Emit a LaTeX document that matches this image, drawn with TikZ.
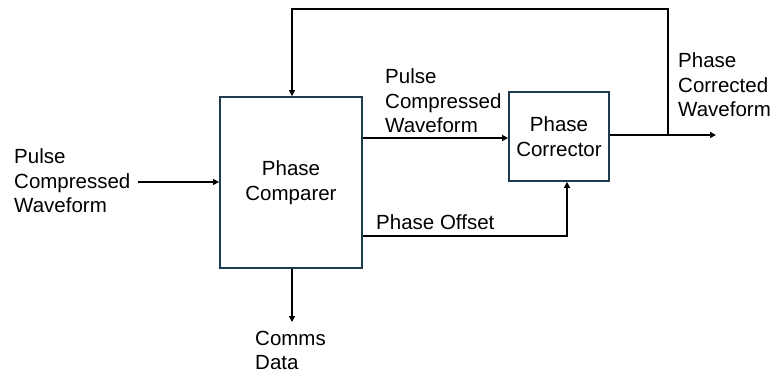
\documentclass[tikz,border=0pt]{standalone}
\usepackage{fontspec}
\setmainfont{Liberation Sans}
\usetikzlibrary{arrows.meta}
\definecolor{boxedge}{HTML}{1E3A4C}
\tikzset{
  blk/.style={draw=boxedge, line width=1.8pt, fill=white, align=center, inner sep=0pt},
  lbl/.style={align=left, inner sep=0pt, anchor=west},
  wire/.style={line width=1.4pt, black},
  arr/.style={wire, -{Triangle[length=6pt,width=6pt]}},
}
\begin{document}
\begin{tikzpicture}[x=1pt, y=-1pt, font=\fontsize{20.5}{24.5}\selectfont]
\useasboundingbox (0,0) rectangle (773,374);

% blocks
\node[blk, minimum width=142pt, minimum height=171pt] (cmp) at (291,182.5) {Phase\\Comparer};
\node[blk, minimum width=100pt, minimum height=89pt] (cor) at (559,136.5) {Phase\\Corrector};

% labels
\node[lbl] (inlbl) at (14,181) {Pulse\\Compressed\\Waveform};
\node[lbl] (midlbl) at (385,101) {Pulse\\Compressed\\Waveform};
\node[lbl] (outlbl) at (678,85) {Phase\\Corrected\\Waveform};
\node[lbl] (offlbl) at (376,222) {Phase Offset};
\node[lbl] (comlbl) at (255,350.5) {Comms\\Data};

% helper points
\coordinate (inStart) at (138,182);
\coordinate (outEnd) at (716,135);
\coordinate (tap) at (668,135);
\coordinate (topRight) at (668,9);
\coordinate (topLeft) at (292,9);
\coordinate (offY) at (0,236);
\coordinate (offX) at (567,0);
\coordinate (midY) at (0,138);
\coordinate (comEnd) at (292,322);

% connectors
\draw[arr] (inStart) -- (cmp.west |- inStart);
\draw[arr] (cmp.east |- midY) -- (cor.west |- midY);
\draw[arr] (cor.east |- tap) -- (outEnd);
\draw[arr] (tap) -- (topRight) -- (topLeft) -- (cmp.north -| topLeft);
\draw[arr] (cmp.east |- offY) -| (cor.south -| offX);
\draw[arr] (cmp.south -| comEnd) -- (comEnd);
\end{tikzpicture}
\end{document}
